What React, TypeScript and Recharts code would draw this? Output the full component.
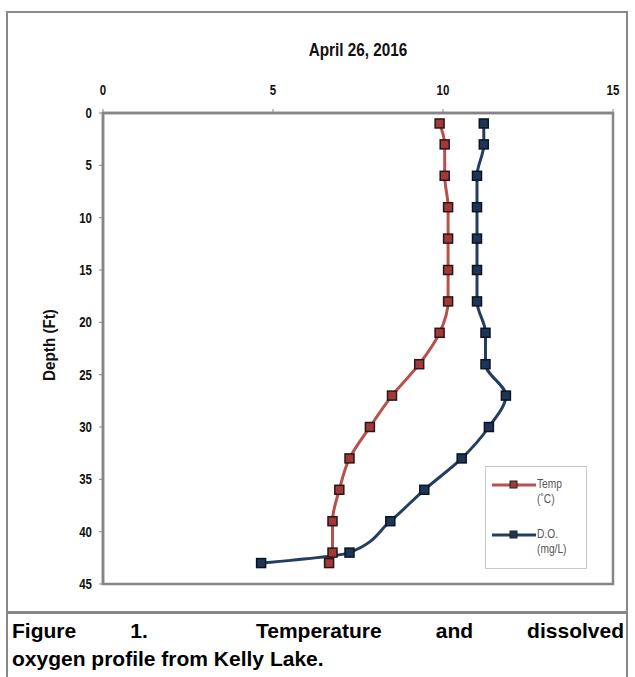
import { LineChart, Line, XAxis, YAxis, ReferenceArea } from "recharts";

const depths = [1, 3, 6, 9, 12, 15, 18, 21, 24, 27, 30, 33, 36, 39, 42, 43];
const tempC = [9.9, 10.05, 10.05, 10.15, 10.15, 10.15, 10.15, 9.9, 9.3, 8.5, 7.85, 7.25, 6.95, 6.75, 6.75, 6.65];
const doMgL = [11.2, 11.2, 11.0, 11.0, 11.0, 11.0, 11.0, 11.25, 11.25, 11.85, 11.35, 10.55, 9.45, 8.45, 7.25, 4.65];
const xTicks = [0, 5, 10, 15];
const yTicks = [0, 5, 10, 15, 20, 25, 30, 35, 40, 45];

const data = depths.map((d, i) => ({ depth: d, temp: tempC[i], oxygen: doMgL[i] }));

const sans = "'Liberation Sans', Arial, sans-serif";
const frame = "#858585";

const square = (fill: string, stroke: string) => (props: any) => {
  const { cx, cy, index } = props;
  if (cx == null || cy == null) return <g key={index} />;
  return <rect key={index} x={cx - 4.5} y={cy - 4.5} width={9} height={9} fill={fill} stroke={stroke} strokeWidth={1.5} />;
};

// narrow bold tick text, squeezed horizontally like Arial Narrow
const NarrowTick = (props: any) => {
  const { x, y, payload, textAnchor, verticalAnchor } = props;
  const dy = verticalAnchor === "end" ? -2 : verticalAnchor === "middle" ? 5 : 12;
  return (
    <g transform={`translate(${x},${y}) scale(0.82,1)`}>
      <text x={0} y={0} dy={dy} textAnchor={textAnchor} fontFamily={sans} fontSize={14} fontWeight="bold" fill="#111">
        {payload.value}
      </text>
    </g>
  );
};

function LegendRow({ color, fill, lines }: { color: string; fill: string; lines: string[] }) {
  return (
    <div style={{ display: "flex", alignItems: "flex-start", marginBottom: 20 }}>
      <svg width={44} height={12} style={{ marginTop: 2 }}>
        <line x1={0} y1={6} x2={44} y2={6} stroke={color} strokeWidth={3} />
        <rect x={18} y={2} width={7} height={7} fill={fill} stroke="#222" strokeWidth={1} />
      </svg>
      <div
        style={{
          fontSize: 12,
          lineHeight: "15px",
          color: "#555",
          fontFamily: sans,
          marginLeft: 1,
          transform: "scaleX(0.85)",
          transformOrigin: "left top",
        }}
      >
        {lines.map((l) => (
          <div key={l}>{l}</div>
        ))}
      </div>
    </div>
  );
}

export default function App() {
  return (
    <div style={{ position: "relative", width: 635, height: 677, background: "#fff", overflow: "hidden" }}>
      <style>{`body{margin:0}`}</style>
      <div style={{ position: "absolute", left: 6, top: 11, width: 622, height: 700, border: "2.5px solid #888", boxSizing: "border-box" }} />
      <div style={{ position: "absolute", left: 6, top: 611, width: 622, height: 2.5, background: "#888" }} />
      <div
        style={{
          position: "absolute",
          left: 358,
          top: 50,
          transform: "translate(-50%, -50%) scaleX(0.85)",
          fontFamily: sans,
          fontWeight: "bold",
          fontSize: 18,
          whiteSpace: "nowrap",
          color: "#111",
        }}
      >
        April 26, 2016
      </div>
      <div
        style={{
          position: "absolute",
          left: 50,
          top: 345,
          transform: "translate(-50%, -50%) rotate(-90deg) scaleX(0.95)",
          fontFamily: sans,
          fontWeight: "bold",
          fontSize: 16,
          whiteSpace: "nowrap",
          color: "#111",
        }}
      >
        Depth (Ft)
      </div>
      <div style={{ position: "absolute", left: 0, top: 0 }}>
        <LineChart width={635} height={677} data={data} layout="vertical" margin={{ top: 83, right: 22, bottom: 93, left: 43 }}>
          <XAxis
            type="number"
            orientation="top"
            domain={[0, 15]}
            ticks={xTicks}
            allowDataOverflow
            height={30}
            tickSize={4}
            tickMargin={12}
            axisLine={{ stroke: frame, strokeWidth: 2.5 }}
            tickLine={{ stroke: frame }}
            tick={<NarrowTick />}
          />
          <YAxis
            type="number"
            dataKey="depth"
            domain={[0, 45]}
            ticks={yTicks}
            allowDataOverflow
            width={60}
            tickSize={4}
            tickMargin={7}
            axisLine={{ stroke: frame, strokeWidth: 2.5 }}
            tickLine={{ stroke: frame }}
            tick={<NarrowTick />}
          />
          <ReferenceArea x1={0} x2={15} y1={0} y2={45} fill="none" stroke={frame} strokeWidth={2.5} fillOpacity={0} />
          <Line
            dataKey="temp"
            type="monotone"
            stroke="#b9504e"
            strokeWidth={3}
            dot={square("#9e3a3a", "#2b1515")}
            isAnimationActive={false}
          />
          <Line
            dataKey="oxygen"
            type="monotone"
            stroke="#223f63"
            strokeWidth={3}
            dot={square("#1f3557", "#0b1420")}
            isAnimationActive={false}
          />
        </LineChart>
      </div>
      <div
        style={{
          position: "absolute",
          left: 485,
          top: 466,
          width: 102,
          height: 103,
          border: "1.5px solid #c8c8c8",
          boxSizing: "border-box",
          background: "#fff",
          padding: "10px 0 0 6px",
        }}
      >
        <LegendRow color="#b9504e" fill="#9e3a3a" lines={["Temp", "(˚C)"]} />
        <LegendRow color="#223f63" fill="#1f3557" lines={["D.O.", "(mg/L)"]} />
      </div>
      <div
        style={{
          position: "absolute",
          left: 12,
          top: 617,
          width: 612,
          fontFamily: sans,
          fontWeight: "bold",
          fontSize: 21,
          lineHeight: "28px",
          color: "#000",
        }}
      >
        <div style={{ textAlign: "justify", textAlignLast: "justify" }}>Figure 1.&nbsp; Temperature and dissolved</div>
        <div>oxygen profile from Kelly Lake.</div>
      </div>
    </div>
  );
}
